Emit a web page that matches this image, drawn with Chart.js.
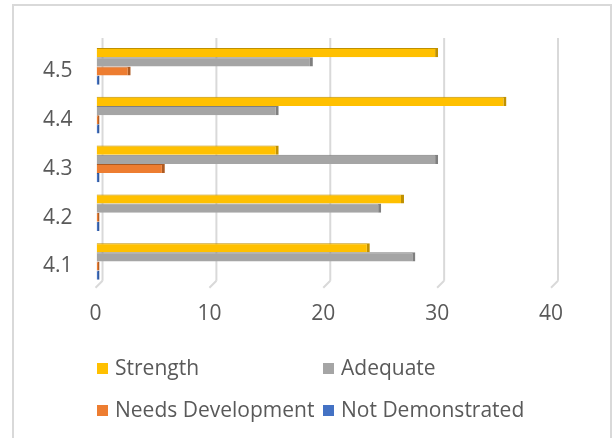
<!DOCTYPE html>
<html>
<head>
<meta charset="utf-8">
<script src="https://cdn.jsdelivr.net/npm/chart.js@4/dist/chart.umd.min.js"></script>
<style>
  html, body { margin: 0; padding: 0; background: #ffffff; overflow: hidden; }
  #wrap { position: relative; width: 614px; height: 438px; }
  #frame { position: absolute; left: 12px; top: 4px; width: 600px; height: 440px; border: 2px solid #d9d9d9; box-sizing: border-box; }
  canvas { position: absolute; left: 0; top: 0; }
</style>
</head>
<body>
<div id="wrap">
  <div id="frame"></div>
  <canvas id="c" width="614" height="438"></canvas>
</div>
<script>
const categories = ['4.5', '4.4', '4.3', '4.2', '4.1'];
const seriesNames = ['Strength', 'Adequate', 'Needs Development', 'Not Demonstrated'];
const strength = [30, 36, 16, 27, 24];
const adequate = [19, 16, 30, 25, 28];
const needsDevelopment = [3, 0, 6, 0, 0];
const notDemonstrated = [0, 0, 0, 0, 0];
const xTickValues = [0, 10, 20, 30, 40];

const fills = ['#FFC000', '#A5A5A5', '#ED7D31', '#4472C4'];
const edges = ['#BF9000', '#7F7F7F', '#AE5A21', '#2F5597'];
const textColor = '#595959';
const fontFamily = '"Open Sans", "Liberation Sans", sans-serif';
const fontSize = 21;

const seriesData = [strength, adequate, needsDevelopment, notDemonstrated];

const datasets = seriesData.map((d, i) => ({
  label: seriesNames[i],
  data: d,
  backgroundColor: fills[i],
  borderColor: edges[i],
  borderWidth: { top: 1, right: 3, bottom: 0, left: 0 },
  borderSkipped: false,
  minBarLength: 3,
  categoryPercentage: 0.75,
  barPercentage: 1.0
}));

const backGrid = {
  id: 'backGrid',
  beforeDatasetsDraw(chart) {
    const ctx = chart.ctx;
    const xs = chart.scales.x;
    const area = chart.chartArea;
    ctx.save();
    ctx.strokeStyle = '#d9d9d9';
    ctx.lineWidth = 2;
    xTickValues.forEach(v => {
      const x = xs.getPixelForValue(v);
      ctx.beginPath();
      ctx.moveTo(x + 6, area.top - 4);
      ctx.lineTo(x + 6, area.bottom - 5);
      ctx.stroke();
      ctx.beginPath();
      ctx.moveTo(x - 1, area.bottom + 2);
      ctx.lineTo(x + 6, area.bottom - 5);
      ctx.stroke();
    });
    ctx.restore();
  }
};

const gridLegend = {
  id: 'gridLegend',
  afterDraw(chart) {
    const ctx = chart.ctx;
    const colX = [97, 323];
    const rowY = [369, 411];
    ctx.save();
    ctx.font = fontSize + 'px ' + fontFamily;
    ctx.textBaseline = 'middle';
    ctx.textAlign = 'left';
    chart.data.datasets.forEach((ds, i) => {
      const x = colX[i % 2];
      const y = rowY[Math.floor(i / 2)];
      ctx.fillStyle = ds.backgroundColor;
      ctx.fillRect(x, y - 6, 11, 11);
      ctx.fillStyle = textColor;
      ctx.fillText(ds.label, x + 18, y);
    });
    ctx.restore();
  }
};

new Chart(document.getElementById('c'), {
  type: 'bar',
  data: { labels: categories, datasets: datasets },
  options: {
    indexAxis: 'y',
    responsive: false,
    animation: false,
    devicePixelRatio: 1,
    layout: { padding: { left: 19, right: 62, top: 42, bottom: 95 } },
    plugins: {
      legend: { display: false },
      tooltip: { enabled: false },
      title: { display: false }
    },
    scales: {
      x: {
        min: 0,
        max: 40,
        afterBuildTicks(scale) { scale.ticks = xTickValues.map(v => ({ value: v })); },
        grid: { display: false, drawTicks: false },
        border: { display: false },
        ticks: { color: textColor, font: { family: fontFamily, size: fontSize }, padding: 16, labelOffset: -1 }
      },
      y: {
        grid: { display: false, drawTicks: false },
        border: { display: false },
        ticks: { color: textColor, font: { family: fontFamily, size: fontSize }, padding: 24, labelOffset: 5 }
      }
    }
  },
  plugins: [backGrid, gridLegend]
});
</script>
</body>
</html>
